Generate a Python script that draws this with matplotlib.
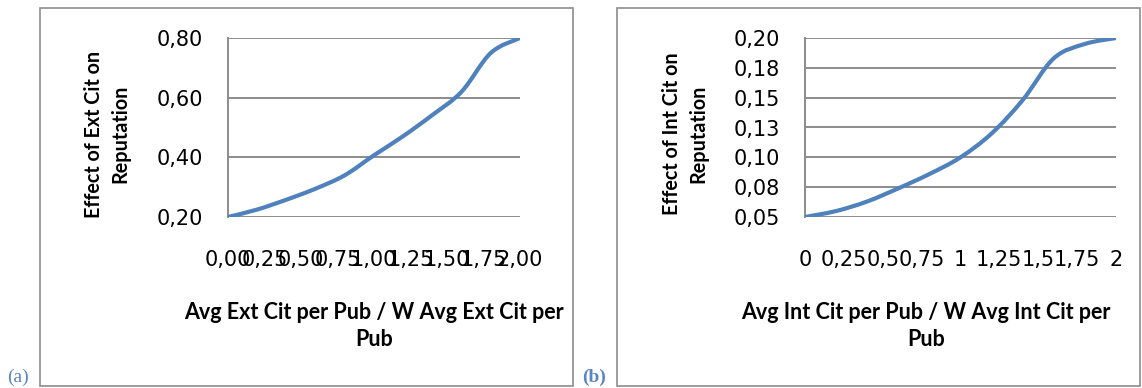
import matplotlib
matplotlib.use('Agg')
import matplotlib.pyplot as plt
from matplotlib.path import Path
from matplotlib.patches import PathPatch, Rectangle
import numpy as np

# data (lookup points every 0.2)
x_vals = [0.0, 0.2, 0.4, 0.6, 0.8, 1.0, 1.2, 1.4, 1.6, 1.8, 2.0]
ext_effect = [0.200, 0.225, 0.258, 0.295, 0.340, 0.407, 0.471, 0.542, 0.620, 0.750, 0.800]
int_effect = [0.050, 0.055, 0.063, 0.074, 0.086, 0.100, 0.120, 0.148, 0.183, 0.195, 0.200]

ext_yticks = [0.20, 0.40, 0.60, 0.80]
ext_ylabels = ['0,20', '0,40', '0,60', '0,80']
ext_xticks = [0, 0.25, 0.5, 0.75, 1.0, 1.25, 1.5, 1.75, 2.0]
ext_xlabels = ['0,00', '0,25', '0,50', '0,75', '1,00', '1,25', '1,50', '1,75', '2,00']

int_yticks = [0.05, 0.075, 0.10, 0.125, 0.15, 0.175, 0.20]
int_ylabels = ['0,05', '0,08', '0,10', '0,13', '0,15', '0,18', '0,20']
int_xticks = [0, 0.25, 0.5, 0.75, 1.0, 1.25, 1.5, 1.75, 2.0]
int_xlabels = ['0', '0,25', '0,5', '0,75', '1', '1,25', '1,5', '1,75', '2']

BLUE = '#4F81BD'
GRID = '#8c8c8c'
TICKFONT = 'DejaVu Sans'
LABFONT = 'Lato'

W, H = 1142, 388
fig = plt.figure(figsize=(W / 100, H / 100), dpi=100)


def smooth_path(xs, ys):
    # excel style smoothed line: bezier through every point
    p = np.column_stack([xs, ys])
    n = len(p)
    verts = [p[0]]
    codes = [Path.MOVETO]
    for i in range(n - 1):
        p0 = p[i - 1] if i > 0 else p[i]
        p3 = p[i + 2] if i + 2 < n else p[i + 1]
        c1 = p[i] + (p[i + 1] - p0) / 6
        c2 = p[i + 1] - (p3 - p[i]) / 6
        verts += [c1, c2, p[i + 1]]
        codes += [Path.CURVE4] * 3
    return Path(verts, codes)


def panel(rect, ys, yticks, ylabels, xticks, xlabels):
    ax = fig.add_axes(rect)
    ax.add_patch(PathPatch(smooth_path(x_vals, ys), fill=False, edgecolor=BLUE,
                           lw=3.0, capstyle='round', zorder=3))
    ax.set_xlim(0, 2)
    ax.set_ylim(yticks[0], yticks[-1])
    ax.set_yticks(yticks)
    ax.set_yticklabels(ylabels, fontsize=15, family=TICKFONT)
    ax.set_xticks(xticks)
    ax.set_xticklabels(xlabels, fontsize=15, family=TICKFONT)
    ax.tick_params(length=0)
    ax.tick_params(axis='y', pad=18)
    ax.tick_params(axis='x', pad=24)
    ax.grid(axis='y', color=GRID, lw=1.4)
    for s in ['top', 'right', 'bottom']:
        ax.spines[s].set_visible(False)
    ax.spines['left'].set_color(GRID)
    ax.spines['left'].set_linewidth(1.4)
    ax.set_axisbelow(True)
    return ax


ax1 = panel([228 / W, 1 - 217 / H, 292 / W, 179 / H], ext_effect,
            ext_yticks, ext_ylabels, ext_xticks, ext_xlabels)
ax2 = panel([805 / W, 1 - 217 / H, 311 / W, 179 / H], int_effect,
            int_yticks, int_ylabels, int_xticks, int_xlabels)

# outer chart frames
for x0, x1 in [(40, 573), (617, 1140)]:
    fig.patches.append(Rectangle((x0 / W, 1 - 386 / H), (x1 - x0) / W, 378 / H,
                                 transform=fig.transFigure, fill=False,
                                 edgecolor='#8c8c8c', lw=1.2))

# axis titles
fig.text(107 / W, 1 - 134 / H, 'Effect of Ext Cit on\nReputation', rotation=90,
         ha='center', va='center', fontsize=14.2, weight='bold', family=LABFONT,
         multialignment='center', linespacing=1.4)
fig.text(685 / W, 1 - 134 / H, 'Effect of Int Cit on\nReputation', rotation=90,
         ha='center', va='center', fontsize=14.2, weight='bold', family=LABFONT,
         multialignment='center', linespacing=1.4)
fig.text(374 / W, 1 - 326 / H, 'Avg Ext Cit per Pub / W Avg Ext Cit per\nPub',
         ha='center', va='center', fontsize=15.5, weight='bold', family=LABFONT,
         multialignment='center', linespacing=1.3)
fig.text(926 / W, 1 - 326 / H, 'Avg Int Cit per Pub / W Avg Int Cit per\nPub',
         ha='center', va='center', fontsize=15.5, weight='bold', family=LABFONT,
         multialignment='center', linespacing=1.3)

# panel letters
fig.text(7 / W, 1 - 377 / H, '(a)', ha='left', va='center', fontsize=14,
         family='Liberation Serif', color='#5b84c4')
fig.text(582 / W, 1 - 377 / H, '(b)', ha='left', va='center', fontsize=14,
         weight='bold', family='Liberation Serif', color='#5b84c4')

fig.savefig('out.png', dpi=100)
